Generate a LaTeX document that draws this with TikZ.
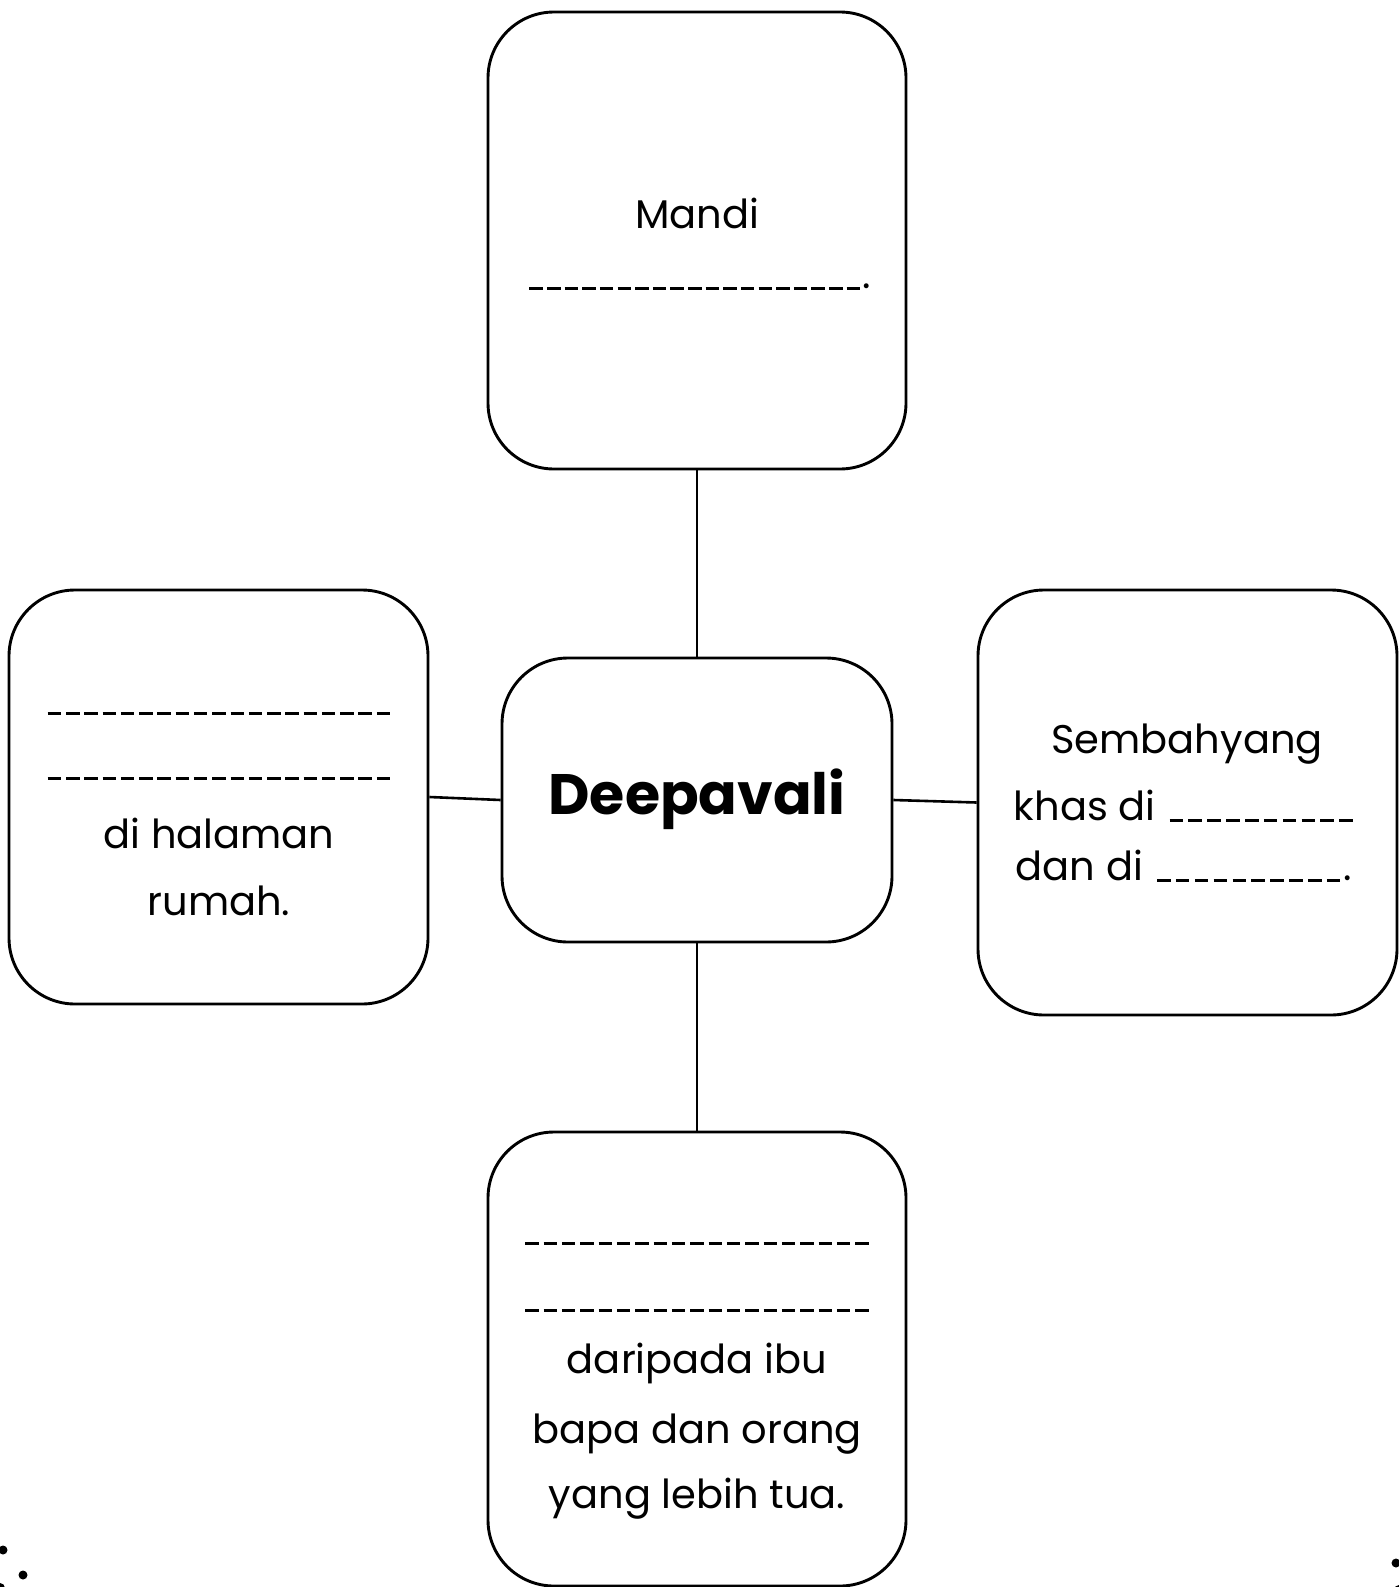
\documentclass[tikz,border=0pt]{standalone}
\usepackage{fontspec}
\setmainfont{Poppins}
\newcommand\blankline[1]{\hbox to #1{\xleaders\hbox to 17.6pt{\hfil\rule[-2pt]{13.5pt}{3.4pt}\hfil}\hfill}}
\tikzset{
  box/.style={draw, line width=2.9pt, rounded corners=66pt, inner sep=0pt},
  link/.style={line width=2.6pt},
  txt/.style={inner sep=0pt, anchor=base, font=\fontsize{40}{48}\selectfont},
  dot/.style={fill=black}
}
\begin{document}
\begin{tikzpicture}[x=1pt,y=-1pt]
\useasboundingbox (0,0) rectangle (1399,1587);
% boxes
\node[box, minimum width=418pt, minimum height=457pt] (top) at (697,240.5) {};
\node[box, minimum width=390pt, minimum height=284pt] (mid) at (697,800) {};
\node[box, minimum width=419pt, minimum height=414pt] (left) at (218.5,797) {};
\node[box, minimum width=419pt, minimum height=425pt] (right) at (1187.5,802.5) {};
\node[box, minimum width=418pt, minimum height=454pt] (bot) at (697,1359) {};
% connectors
\draw[link] (top.south) -- (mid.north);
\draw[link] (mid.south) -- (bot.north);
\draw[link] (mid.west) -- (left.east);
\draw[link] (mid.east) -- (right.west);
% centre
\node[txt, font=\fontsize{57}{66}\selectfont\bfseries] (title) at (697,814) {Deepavali};
% top text
\node[txt] (t1) at (697,228) {Mandi};
\node[txt] (t2) at (699,288) {\blankline{335pt}.};
% left text
\node[txt] (l1) at (219,713) {\blankline{348pt}};
\node[txt] (l2) at (219,778) {\blankline{348pt}};
\node[txt] (l3) at (219,848) {di halaman};
\node[txt] (l4) at (219,915) {rumah.};
% right text
\node[txt] (r1) at (1187,753) {Sembahyang};
\node[txt] (r2) at (1185,820) {khas di \blankline{190pt}};
\node[txt] (r3) at (1184,880) {dan di \blankline{190pt}.};
% bottom text
\node[txt] (b1) at (697,1243) {\blankline{349pt}};
\node[txt] (b2) at (697,1310) {\blankline{349pt}};
\node[txt] (b3) at (697,1373) {daripada ibu};
\node[txt] (b4) at (697,1443) {bapa dan orang};
\node[txt] (b5) at (697,1508) {yang lebih tua.};
% corner dots
\fill[dot] (3,1550) circle (4.5);
\fill[dot] (23,1575) circle (4.5);
\fill[dot] (0,1588) circle (5);
\fill[dot] (1396,1563) circle (4.5);
\fill[dot] (1399,1590) circle (5);
\end{tikzpicture}
\end{document}
